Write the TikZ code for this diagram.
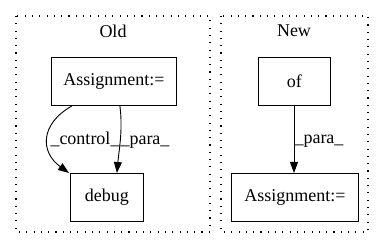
\documentclass[tikz,border=0pt]{standalone}
\usepackage{fontspec}
\setmainfont{Liberation Serif}
\usetikzlibrary{arrows.meta}
\begin{document}
\begin{tikzpicture}[x=1pt,y=-1pt,
  every node/.style={font=\fontsize{18}{21}\selectfont, inner sep=0pt},
  box/.style={draw, line width=0.9pt, minimum height=48pt, anchor=north west},
  cluster/.style={draw, line width=1.1pt, dash pattern=on 1.1pt off 6.2pt},
  edge/.style={line width=0.9pt, -{Triangle[length=11pt,width=8pt]}},
  lbl/.style={anchor=base}]
\useasboundingbox (0,0) rectangle (384,248);
% clusters
\draw[cluster] (16,16) rectangle (210,232);
\draw[cluster] (221,16) rectangle (368,232);
\node (told) at (113,31) {Old};
\node (tnew) at (294,31) {New};
% Old graph
\node[box, minimum width=125pt] (oa) at (51,57) {Assignment:=};
\node[box, minimum width=73pt] (od) at (70,173) {debug};
\draw[edge] ([xshift=21pt]oa.south west) .. controls (40,124) and (40,152) .. ([xshift=-1pt]od.north west);
\draw[edge] ([xshift=-57pt]oa.south east) .. controls (123,130) and (119,150) .. ([xshift=-27pt]od.north east);
\node[lbl] (lc) at (85,145) {\_control\_};
\node[lbl] (lp) at (145,145) {\_para\_};
% New graph
\node[box, minimum width=72pt] (nof) at (258,57) {of};
\node[box, minimum width=127pt] (na) at (231,173) {Assignment:=};
\draw[edge] (nof.south -| 294,0) -- (na.north -| 294,0);
\node[lbl] (np) at (319,144) {\_para\_};
\end{tikzpicture}
\end{document}
